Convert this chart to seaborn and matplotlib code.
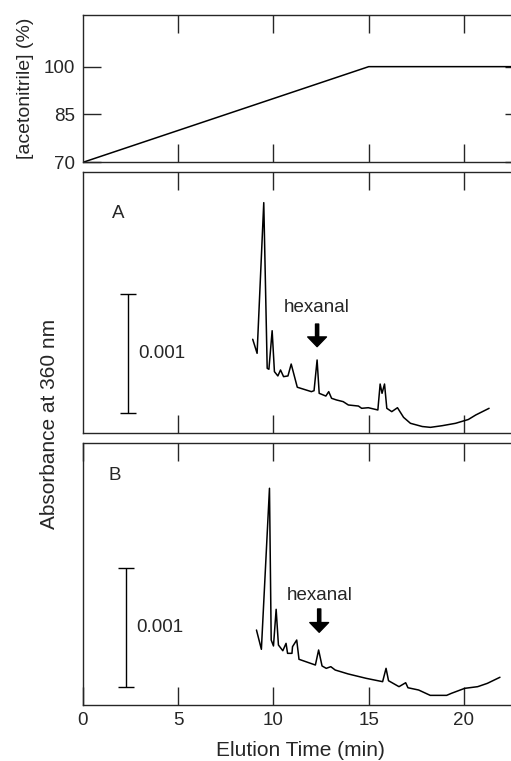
import numpy as np
import pandas as pd
import matplotlib
matplotlib.use('Agg')
import matplotlib.pyplot as plt
import seaborn as sns

# gradient program (min, % acetonitrile)
grad_time = [0, 15, 23.1]
grad_acn = [70, 100, 100]

# chromatogram A (elution time in min, absorbance in 1e-3 AU, arbitrary offset)
time_a = [8.91, 9.14, 9.49, 9.67, 9.76, 9.93, 10.05, 10.23, 10.37, 10.53, 10.76, 10.93,
          11.25, 11.99, 12.13, 12.29, 12.40, 12.75, 12.90, 13.05, 13.31, 13.66, 13.93,
          14.46, 14.63, 14.98, 15.48, 15.60, 15.70, 15.83, 15.95, 16.21, 16.51, 16.83,
          17.19, 17.81, 18.24, 18.86, 19.56, 20.23, 20.62, 21.32]
abs_a = [0.79, 0.672, 1.938, 0.546, 0.538, 0.862, 0.518, 0.482, 0.532, 0.476, 0.482, 0.582,
         0.387, 0.350, 0.358, 0.616, 0.336, 0.313, 0.350, 0.294, 0.280, 0.266, 0.238,
         0.229, 0.210, 0.215, 0.196, 0.414, 0.336, 0.414, 0.210, 0.182, 0.215, 0.134,
         0.084, 0.057, 0.050, 0.064, 0.084, 0.116, 0.154, 0.210]

# chromatogram B
time_b = [9.107, 9.365, 9.79, 9.88, 10.0, 10.14, 10.26, 10.49, 10.66, 10.74, 10.97, 11.0,
          11.22, 11.34, 12.20, 12.37, 12.55, 12.77, 13.01, 13.24, 13.92, 14.87, 15.73,
          15.91, 16.04, 16.59, 16.94, 17.06, 17.62, 18.23, 18.66, 19.09, 19.34, 20.04,
          20.72, 21.23, 21.89]
abs_b = [0.630, 0.468, 1.821, 0.546, 0.496, 0.804, 0.504, 0.456, 0.518, 0.434, 0.434, 0.490,
         0.546, 0.384, 0.336, 0.462, 0.328, 0.308, 0.322, 0.294, 0.261, 0.224, 0.196,
         0.308, 0.204, 0.154, 0.187, 0.145, 0.126, 0.081, 0.081, 0.081, 0.098, 0.140,
         0.154, 0.182, 0.233]

# hexanal marks (time, text y, arrow tail, arrow head) and 0.001 scale bars
hex_a = (12.29, 1.055, 0.918, 0.728)
hex_b = (12.40, 0.924, 0.807, 0.611)
scale_a = (2.35, 0.168)   # x, bar bottom
scale_b = (2.25, 0.151)

df_grad = pd.DataFrame({'time': grad_time, 'acn': grad_acn})
df_a = pd.DataFrame({'time': time_a, 'abs': abs_a})
df_b = pd.DataFrame({'time': time_b, 'abs': abs_b})

sns.set_style('ticks')
plt.rcParams['font.family'] = ['Liberation Sans', 'DejaVu Sans']

W, H = 511, 761
fig = plt.figure(figsize=(W / 100, H / 100), dpi=100)

def box(top, bottom, left=83, right=523):
    return [left / W, (H - bottom) / H, (right - left) / W, (bottom - top) / H]

ax0 = fig.add_axes(box(15, 162.3))
axA = fig.add_axes(box(172.3, 433.3))
axB = fig.add_axes(box(442.7, 705))

sns.lineplot(data=df_grad, x='time', y='acn', ax=ax0, color='black', lw=1.1,
             estimator=None, sort=False)
sns.lineplot(data=df_a, x='time', y='abs', ax=axA, color='black', lw=1.1,
             estimator=None, sort=False)
sns.lineplot(data=df_b, x='time', y='abs', ax=axB, color='black', lw=1.1,
             estimator=None, sort=False)

xmax = 23.1
for ax in (ax0, axA, axB):
    ax.set_xlim(0, xmax)
    ax.set_xticks([5, 10, 15, 20])
    ax.tick_params(axis='x', direction='in', length=13, width=1.0, top=True,
                   bottom=True, labelbottom=False)
    for s in ax.spines.values():
        s.set_linewidth(1.0)
    ax.set_xlabel('')
    ax.set_ylabel('')

ax0.set_ylim(70, 116.2)
ax0.set_yticks([70, 85, 100])
ax0.tick_params(axis='y', direction='in', length=13, width=1.0, left=True, right=True,
                labelsize=13.5, pad=6)

axA.set_ylim(0, 2.193)
axB.set_ylim(0, 2.204)
for ax in (axA, axB):
    ax.set_yticks([])

axB.set_xticks([0, 5, 10, 15, 20])
axB.tick_params(axis='x', labelbottom=True, labelsize=13.5, pad=5)

fig.text(300 / W, 1 - 750 / H, 'Elution Time (min)', fontsize=15, ha='center', va='center')
fig.text(50 / W, 1 - 424 / H, 'Absorbance at 360 nm', rotation=90, fontsize=15,
         ha='center', va='center')
fig.text(25 / W, 1 - 88 / H, '[acetonitrile] (%)', rotation=90, fontsize=14,
         ha='center', va='center')

for ax, lab, lx, ly, (hx, ty, tail, head), (sx, sb) in (
        (axA, 'A', 1.52, 1.85, hex_a, scale_a), (axB, 'B', 1.36, 1.93, hex_b, scale_b)):
    ax.text(lx, ly, lab, fontsize=13.5, ha='left', va='center')
    ax.text(hx, ty, 'hexanal', fontsize=13.5, ha='center', va='center')
    ax.annotate('', xy=(hx, head), xytext=(hx, tail),
                arrowprops=dict(facecolor='black', edgecolor='black', width=2.3,
                                headwidth=13.5, headlength=7, shrink=0))
    ax.errorbar([sx], [sb + 0.5], yerr=0.5, color='black', lw=1.0, capsize=6,
                capthick=1.0)
    ax.text(sx + 0.55, sb + 0.5, '0.001', fontsize=13.5, ha='left', va='center')

fig.savefig('out.png', dpi=100)
